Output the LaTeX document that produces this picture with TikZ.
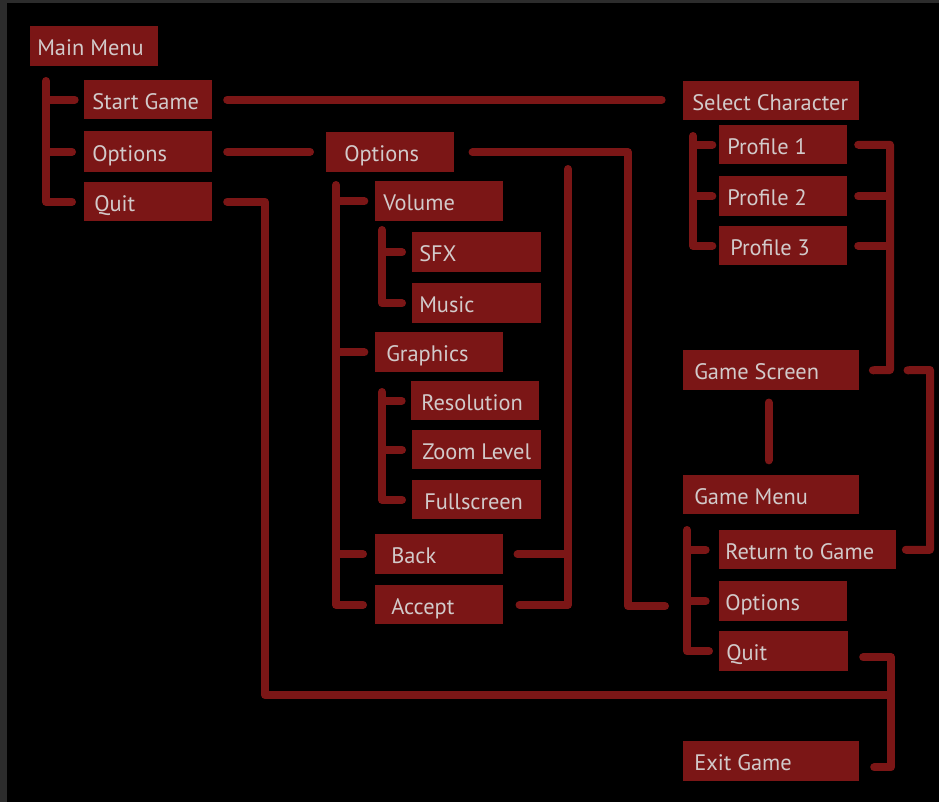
\documentclass[tikz,border=0pt]{standalone}
\usepackage{fontspec}
\setmainfont{PT Sans}
\definecolor{boxred}{HTML}{7B1616}
\definecolor{txt}{HTML}{D2CACA}
\definecolor{frame}{HTML}{2C2C2C}
\begin{document}
\begin{tikzpicture}[x=0.75pt,y=-0.75pt]
\tikzset{
  box/.style={fill=boxred, draw=none, anchor=north west, inner xsep=0pt, inner ysep=0pt,
    text=txt, font=\fontsize{16.8}{19}\selectfont, text height=14.5pt, text depth=0pt},
  ln/.style={draw=boxred, line width=6pt, line cap=round, line join=round},
}
\newcommand\mybox[7]{%
  \pgfmathsetmacro\bw{(#4-#2)*0.75}\pgfmathsetmacro\bh{(#5-#3)*0.75}\pgfmathsetmacro\bs{#6*0.75}%
  \node[box, minimum height=\bh pt] (#1) at (#2,#3) {\makebox[\bw pt][l]{\hspace*{\bs pt}#7}};}
\useasboundingbox (0,0) rectangle (939,802);
\fill[frame] (0,0) rectangle (939,802);
\fill[black] (7,3) rectangle (939,802);
% boxes
\mybox{mm}{30}{26}{158}{66}{7}{Main Menu}
\mybox{sg}{84}{80}{212}{119}{8}{Start Game}
\mybox{op1}{84}{131}{212}{172}{8}{Options}
\mybox{qt1}{84}{182}{212}{221}{10}{Quit}
\mybox{op2}{326}{132}{454}{172}{18}{Options}
\mybox{vol}{375}{181}{503}{221}{8}{Volume}
\mybox{sfx}{412}{232}{541}{272}{7}{SFX}
\mybox{mus}{412}{283}{541}{323}{7}{Music}
\mybox{gfx}{375}{332}{503}{372}{11}{Graphics}
\mybox{res}{411}{381}{539}{420}{10}{Resolution}
\mybox{zl}{412}{430}{541}{469}{10}{Zoom Level}
\mybox{fs}{412}{480}{541}{519}{12}{Fullscreen}
\mybox{bk}{375}{534}{503}{574}{16}{Back}
\mybox{ac}{375}{585}{503}{624}{16}{Accept}
\mybox{sc}{683}{81}{859}{120}{9}{Select Character}
\mybox{p1}{719}{125}{847}{164}{8}{Profile 1}
\mybox{p2}{719}{176}{847}{216}{8}{Profile 2}
\mybox{p3}{719}{226}{847}{265}{11}{Profile 3}
\mybox{gs}{683}{350}{859}{390}{11}{Game Screen}
\mybox{gm}{683}{475}{859}{514}{11}{Game Menu}
\mybox{rg}{719}{530}{896}{569}{6}{Return to Game}
\mybox{op3}{719}{581}{847}{621}{6}{Options}
\mybox{qt3}{719}{631}{848}{671}{7}{Quit}
\mybox{ex}{683}{741}{859}{781}{11}{Exit Game}
% spine coordinates
\coordinate (mS) at (46,81);
\coordinate (qx) at (265,695);
\coordinate (xr) at (891,695);
\coordinate (oR) at (628,606);
\coordinate (oE) at (665,606);
\coordinate (o2S) at (336,185);
\coordinate (vS) at (382,230);
\coordinate (gS) at (382,392);
\coordinate (rS) at (568,169);
\coordinate (pS) at (693,136);
\coordinate (pR) at (890,370);
\coordinate (gR) at (930,370);
\coordinate (gmS) at (687,530);
% main menu
\draw[ln] (mS) |- ([xshift=-9pt]qt1.west);
\draw[ln] (sg.west -| mS) -- ([xshift=-7pt]sg.west);
\draw[ln] (op1.west -| mS) -- ([xshift=-9pt]op1.west);
\draw[ln] ([xshift=11pt]sg.east) -- ([xshift=-16pt]sc.west |- sg.east);
\draw[ln] ([xshift=11pt]op1.east) -- ([xshift=-12pt]op2.west |- op1.east);
\draw[ln] ([xshift=11pt]qt1.east) -| (qx) -- (xr);
\draw[ln] ([xshift=11pt,yshift=-4.5pt]qt3.east) -| (xr) |- ([xshift=11pt,yshift=-4.5pt]ex.east);
% options panel
\draw[ln] ([xshift=13.5pt]op2.east) -| (oR) -- (oE);
\draw[ln] (o2S) |- ([xshift=-9pt]ac.west);
\draw[ln] (vol.west -| o2S) -- ([xshift=-8pt]vol.west);
\draw[ln] (gfx.west -| o2S) -- ([xshift=-8pt]gfx.west);
\draw[ln] (bk.west -| o2S) -- ([xshift=-9pt]bk.west);
\draw[ln] (vS) |- ([xshift=-7.5pt]mus.west);
\draw[ln] (sfx.west -| vS) -- ([xshift=-7.5pt]sfx.west);
\draw[ln] (gS) |- ([xshift=-7.5pt]fs.west);
\draw[ln] (res.west -| gS) -- ([xshift=-7pt]res.west);
\draw[ln] (zl.west -| gS) -- ([xshift=-7.5pt]zl.west);
\draw[ln] (rS) |- ([xshift=12pt]ac.east);
\draw[ln] ([xshift=10.5pt]bk.east) -- (bk.east -| rS);
% select character
\draw[ln] (pS) |- ([xshift=-5pt]p3.west);
\draw[ln] (p1.west -| pS) -- ([xshift=-5pt]p1.west);
\draw[ln] (p2.west -| pS) -- ([xshift=-5pt]p2.west);
\draw[ln] ([xshift=8pt]p1.east) -| (pR) -- ([xshift=10pt]gs.east);
\draw[ln] ([xshift=8pt]p2.east) -- (p2.east -| pR);
\draw[ln] ([xshift=8pt]p3.east) -- (p3.east -| pR);
% game screen / menu
\draw[ln] ([xshift=36pt]gs.east) -- (gR) |- ([xshift=7pt]rg.east);
\draw[ln] ([xshift=-2pt,yshift=-9pt]gs.south) -- ([xshift=-2pt,yshift=11pt]gm.north);
\draw[ln] (gmS) |- ([xshift=-7.5pt]qt3.west);
\draw[ln] (rg.west -| gmS) -- ([xshift=-10pt]rg.west);
\draw[ln] (op3.west -| gmS) -- ([xshift=-10pt]op3.west);
\end{tikzpicture}
\end{document}
